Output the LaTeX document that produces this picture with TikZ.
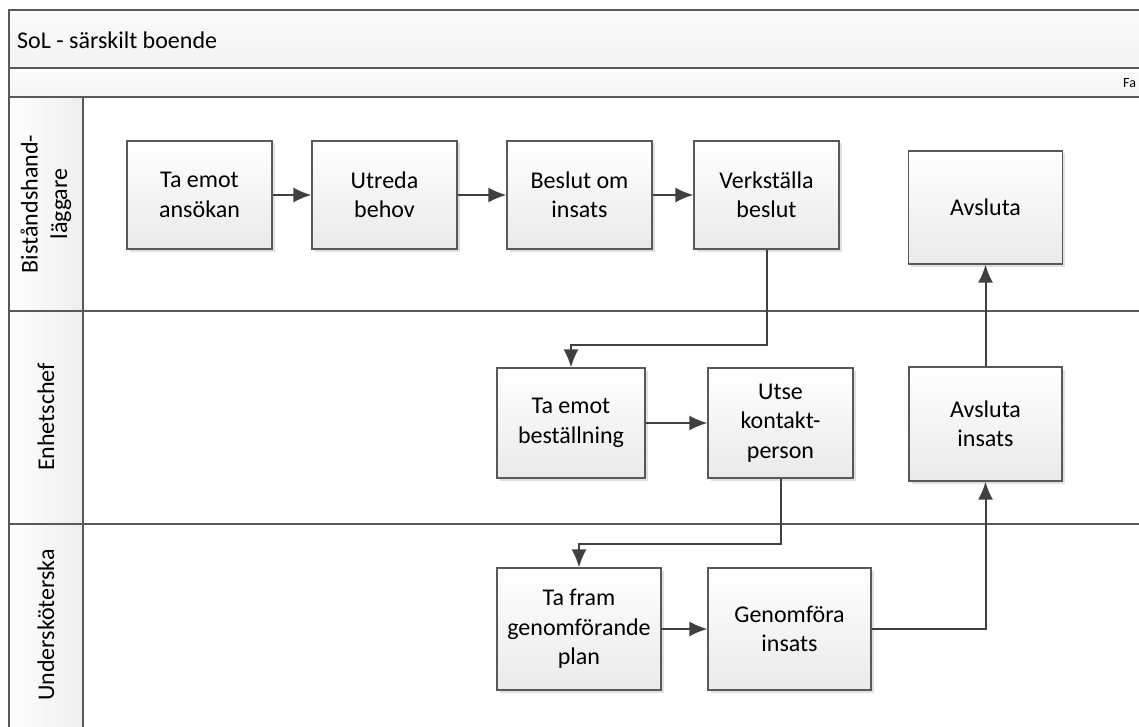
\documentclass[tikz,border=0pt]{standalone}
\usepackage{fontspec}
\setmainfont{Carlito}
\definecolor{linegray}{RGB}{89, 89, 89}
\definecolor{arrowgray}{RGB}{64, 64, 64}
\definecolor{boxgray}{RGB}{234, 234, 234}
\definecolor{headgray}{RGB}{238, 238, 238}
\usetikzlibrary{shapes,arrows.meta,shadows}
\tikzstyle{block} = [rectangle, draw=linegray, line width=1.2pt, top color=white,
    bottom color=boxgray, text=black, align=center, inner sep=0pt,
    font=\fontsize{24}{29.5}\selectfont,
    drop shadow={shadow xshift=2.5pt, shadow yshift=-2.5pt, fill=black!12, opacity=1}]
\tikzstyle{lanehead} = [rotate=90, align=center, inner sep=0pt, font=\fontsize{24}{29.5}\selectfont]
\tikzstyle{lane} = [draw=linegray, line width=1.8pt]
\tikzstyle{line} = [draw=arrowgray, line width=2pt, -{Latex[length=18pt, width=15pt]}]

\begin{document}
\begin{tikzpicture}[x=1pt, y=-1pt]
  \useasboundingbox (0,0) rectangle (1139,727);
  % pool and lanes
  \shade [top color=gray!3, bottom color=gray!10] (9,10) rectangle (1150,68);
  \shade [top color=gray!2, bottom color=gray!8] (9,68) rectangle (1150,97);
  \shade [left color=white, right color=headgray] (9,97) rectangle (83,740);
  \path [lane] (1150,10) -- (9,10) -- (9,740);
  \path [lane] (9,68) -- (1150,68);
  \path [lane] (9,97) -- (1150,97);
  \path [lane] (9,311) -- (1150,311);
  \path [lane] (9,524) -- (1150,524);
  \path [lane] (83,97) -- (83,740);
  \node [anchor=west, inner sep=0pt, font=\fontsize{24}{29}\selectfont] (title) at (17,40) {SoL - särskilt boende};
  \node [anchor=west, inner sep=0pt, font=\fontsize{14}{16}\selectfont] (phase) at (1123,83) {Fa};
  \node [lanehead] (lane_bist) at (46,204) {Biståndshand-\\läggare};
  \node [lanehead] (lane_enh) at (46,417) {Enhetschef};
  \node [lanehead] (lane_usk) at (46,625) {Undersköterska};
  % steps
  \node [block, minimum width=145pt, minimum height=108pt] (ansokan) at (199.5,195) {Ta emot\\ansökan};
  \node [block, minimum width=145pt, minimum height=108pt] (utreda) at (384.5,195) {Utreda\\behov};
  \node [block, minimum width=145pt, minimum height=108pt] (beslut) at (579.5,195) {Beslut om\\insats};
  \node [block, minimum width=145pt, minimum height=108pt] (verkstalla) at (766.5,195) {Verkställa\\beslut};
  \node [block, minimum width=154pt, minimum height=113pt] (avsluta) at (985.5,207.5) {Avsluta};
  \node [block, minimum width=148pt, minimum height=110pt] (bestallning) at (571,423) {Ta emot\\beställning};
  \node [block, minimum width=145pt, minimum height=110pt] (kontakt) at (780.5,423) {Utse\\kontakt-\\person};
  \node [block, minimum width=153pt, minimum height=114pt] (avsluta_insats) at (985.5,424) {Avsluta\\insats};
  \node [block, minimum width=164pt, minimum height=122pt] (plan) at (579,629) {Ta fram\\genomförande\\plan};
  \node [block, minimum width=163pt, minimum height=122pt] (genomfora) at (789.5,629) {Genomföra\\insats};
  \coordinate (bend_bestallning) at (571,345);
  \coordinate (bend_plan) at (579,544);
  % flow
  \path [line] (ansokan) -- (utreda);
  \path [line] (utreda) -- (beslut);
  \path [line] (beslut) -- (verkstalla);
  \path [line] (verkstalla.south) |- (bend_bestallning) -- (bestallning.north);
  \path [line] (bestallning) -- (kontakt);
  \path [line] (kontakt.south) |- (bend_plan) -- (plan.north);
  \path [line] (plan) -- (genomfora);
  \path [line] (genomfora.east) -| (avsluta_insats.south);
  \path [line] (avsluta_insats) -- (avsluta);
\end{tikzpicture}
\end{document}
